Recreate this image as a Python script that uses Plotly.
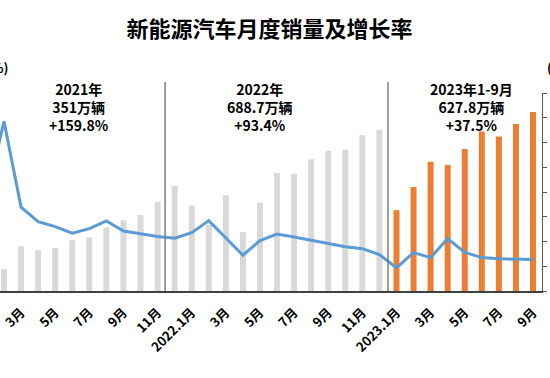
import plotly.graph_objects as go

months = ["2021.1月", "2月", "3月", "4月", "5月", "6月", "7月", "8月", "9月", "10月", "11月", "12月",
          "2022.1月", "2月", "3月", "4月", "5月", "6月", "7月", "8月", "9月", "10月", "11月", "12月",
          "2023.1月", "2月", "3月", "4月", "5月", "6月", "7月", "8月", "9月"]
sales = [17.9, 11.0, 22.6, 20.6, 21.7, 25.6, 27.1, 32.1, 35.7, 38.3, 45.0, 53.1,
         43.1, 33.4, 48.4, 29.9, 44.7, 59.6, 59.3, 66.6, 70.8, 71.4, 78.6, 81.4,
         40.8, 52.5, 65.3, 63.6, 71.7, 80.6, 78.0, 84.3, 90.4]
growth = [285.8, 585.3, 239.0, 180.3, 160.0, 134.0, 152.0, 183.0, 142.0, 130.0, 120.0, 113.0,
          135.8, 184.5, 114.2, 44.6, 104.0, 130.0, 118.0, 104.0, 90.0, 79.0, 71.0, 47.0,
          -6.3, 55.0, 34.8, 112.0, 56.0, 35.0, 30.0, 27.0, 27.0]
shown_ticks = ["2021.1月", "3月", "5月", "7月", "9月", "11月", "2022.1月", "3月", "5月", "7月", "9月", "11月",
               "2023.1月", "3月", "5月", "7月", "9月"]
year_notes = ["2021年<br>351万辆<br>+159.8%", "2022年<br>688.7万辆<br>+93.4%", "2023年1-9月<br>627.8万辆<br>+37.5%"]

x = list(range(len(months)))
bar_colors = ["#D9D9D9"] * 24 + ["#ED7D31"] * 9

fig = go.Figure()
fig.add_trace(go.Bar(x=x, y=sales, marker=dict(color=bar_colors, line=dict(width=0)),
                     width=0.35, yaxis="y", showlegend=False))
fig.add_trace(go.Scatter(x=x, y=growth, mode="lines", line=dict(color="#5B9BD5", width=3),
                         yaxis="y2", showlegend=False))

font_family = "Noto Sans CJK SC"
fig.update_layout(
    width=550, height=378,
    margin=dict(l=0, r=8, t=93, b=87),
    paper_bgcolor="white", plot_bgcolor="white",
    xaxis=dict(range=[0.7656, 32.527], tickmode="array", tickvals=list(range(0, 33, 2)),
               ticktext=shown_ticks, tickangle=-45, showgrid=False, zeroline=False,
               showline=True, linecolor="#404040", linewidth=1.5,
               ticks="outside", ticklen=7, tickcolor="rgba(0,0,0,0)",
               tickfont=dict(family=font_family, size=13, color="black", weight="bold"),
               automargin=False),
    yaxis=dict(range=[0, 100], dtick=12.5, side="right", showgrid=False, zeroline=False,
               showline=True, linecolor="#595959", linewidth=1, ticks="outside", ticklen=4,
               tickcolor="#595959", showticklabels=False, automargin=False),
    yaxis2=dict(range=[-100, 700], dtick=100, overlaying="y", side="left", showgrid=False,
                zeroline=False, showline=False, showticklabels=False, automargin=False),
    title=dict(text="新能源汽车月度销量及增长率", x=0.49, xanchor="center", y=1 - 29 / 378,
               yanchor="middle", font=dict(family=font_family, size=22, color="black", weight="bold")),
)

# separators
for xs in [10.44, 23.5]:
    fig.add_shape(type="line", xref="x", yref="paper", x0=xs, x1=xs, y0=0, y1=(291 - 82) / 198,
                  line=dict(color="#7F7F7F", width=1.5))

note_x = [5.4, 16.0, 28.4]
for nx, txt in zip(note_x, year_notes):
    fig.add_annotation(x=nx, xref="x", y=94, yref="y", yshift=-2, text=txt, showarrow=False,
                       yanchor="middle", align="center",
                       font=dict(family=font_family, size=14, color="black", weight="bold"))

# cut-off axis titles
fig.add_annotation(x=0, xref="paper", xanchor="right", xshift=10, y=1, yref="paper", yshift=26,
                   text="(%)", showarrow=False, yanchor="middle",
                   font=dict(family=font_family, size=13, color="black", weight="bold"))
fig.add_annotation(x=1, xref="paper", xanchor="left", xshift=3, y=1, yref="paper", yshift=26,
                   text="(万辆)", showarrow=False, yanchor="middle",
                   font=dict(family=font_family, size=13, color="black", weight="bold"))

fig.write_html("out.html", config={"displayModeBar": False},
               post_script="document.body.style.margin='0px';")
